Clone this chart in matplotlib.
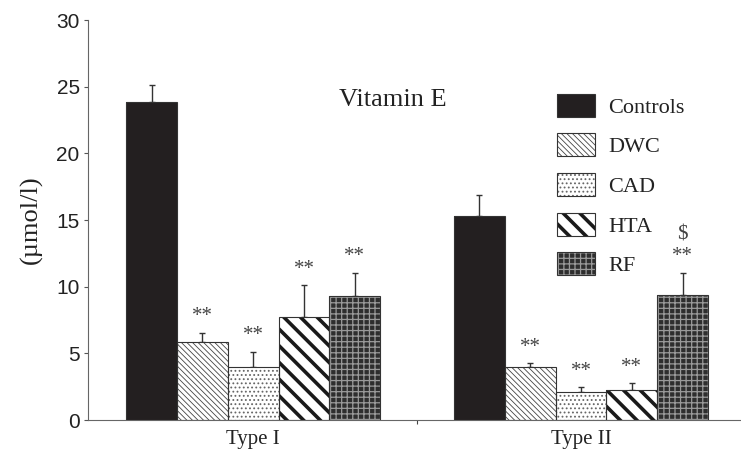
import numpy as np
import matplotlib as mpl
mpl.use('Agg')
import matplotlib.pyplot as plt
from matplotlib.patches import Patch, Rectangle
from matplotlib.legend_handler import HandlerPatch

# data
groups = ['Type I', 'Type II']
series = ['Controls', 'DWC', 'CAD', 'HTA', 'RF']
means = {
  'Controls': [23.85, 15.3],
  'DWC': [5.85, 3.95],
  'CAD': [4.0, 2.1],
  'HTA': [7.75, 2.25],
  'RF': [9.3, 9.35],
}
errs = {
  'Controls': [1.3, 1.6],
  'DWC': [0.7, 0.3],
  'CAD': [1.1, 0.35],
  'HTA': [2.35, 0.5],
  'RF': [1.75, 1.7],
}
marks = {
  'Controls': ['', ''],
  'DWC': ['**', '**'],
  'CAD': ['**', '**'],
  'HTA': ['**', '**'],
  'RF': ['**', '$\n**'],
}

# style per series: face, hatch, hatch colour, hatch linewidth
styles = {
  'Controls': dict(face='#231f20', hatch=None, hc='#231f20', hlw=1.0),
  'DWC': dict(face='white', hatch='\\\\\\\\\\\\', hc='#444444', hlw=0.6),
  'CAD': dict(face='white', hatch='....', hc='#666666', hlw=0.8),
  'HTA': dict(face='white', hatch='\\\\', hc='#1a1a1a', hlw=2.6),
  'RF': dict(face='#2e2e2e', hatch='+++', hc='#9a9a9a', hlw=0.9),
}

serif = ['Liberation Serif', 'DejaVu Serif']
sans = ['Liberation Sans', 'DejaVu Sans']


def make_patch(st, xy, w, h):
  r = Rectangle(xy, w, h, facecolor=st['face'], edgecolor=st['hc'],
                hatch=st['hatch'], linewidth=0)
  if hasattr(r, 'set_hatch_linewidth'):
    r.set_hatch_linewidth(st['hlw'])
  return r


class HatchHandler(HandlerPatch):
  def __init__(self, st):
    super().__init__()
    self.st = st

  def create_artists(self, legend, orig_handle, xdescent, ydescent,
                     width, height, fontsize, trans):
    mpl.rcParams['hatch.linewidth'] = self.st['hlw']
    p = make_patch(self.st, (-xdescent, -ydescent), width, height)
    p.set_transform(trans)
    o = Rectangle((-xdescent, -ydescent), width, height, fill=False,
                  edgecolor='#333333', linewidth=0.8)
    o.set_transform(trans)
    return [p, o]


fig = plt.figure(figsize=(7.41, 4.53), dpi=100)
ax = fig.add_axes([88/741, 33/453, 653/741, 400/453])

x = np.arange(len(groups))
width = 0.155
handles = []
hmap = {}
for i, name in enumerate(series):
  st = styles[name]
  pos = x + (i - 2) * width
  mpl.rcParams['hatch.linewidth'] = st['hlw']
  bars = ax.bar(pos, means[name], width, color=st['face'],
                edgecolor=st['hc'], hatch=st['hatch'], linewidth=0, zorder=2)
  for b in bars:
    if hasattr(b, 'set_hatch_linewidth'):
      b.set_hatch_linewidth(st['hlw'])
  ax.bar(pos, means[name], width, fill=False, edgecolor='#333333',
         linewidth=0.8, zorder=3)
  ax.errorbar(pos, means[name], yerr=[np.zeros(len(groups)), errs[name]],
              fmt='none', ecolor='#333333', elinewidth=1.0, capsize=2,
              capthick=1.0, zorder=1)
  for p, m, e, t in zip(pos, means[name], errs[name], marks[name]):
    if t:
      ax.text(p, m + e + 0.5, t, ha='center', va='bottom', fontsize=15,
              family=serif, color='#444444', linespacing=1.15)
  h = Patch(label=name)
  handles.append(h)
  hmap[h] = HatchHandler(st)

ax.set_xlim(-0.504, 1.488)
ax.set_ylim(0, 30)
ax.set_yticks(np.arange(0, 31, 5))
ax.tick_params(axis='y', direction='out', length=3, width=0.8,
               color='#555555', labelsize=15, pad=3)
for lab in ax.get_yticklabels():
  lab.set_family(sans)
  lab.set_color('#222222')

ax.set_xticks([0.5])
ax.set_xticklabels([''])
ax.set_xticks(x, minor=True)
ax.set_xticklabels(groups, minor=True, fontsize=15, family=serif,
                   color='#222222')
ax.tick_params(axis='x', which='major', direction='out', length=3,
               width=0.8, color='#444444')
ax.tick_params(axis='x', which='minor', length=0, pad=7)

for s in ['top', 'right']:
  ax.spines[s].set_visible(False)
ax.spines['left'].set_color('#666666')
ax.spines['bottom'].set_color('#666666')
ax.spines['left'].set_linewidth(0.8)
ax.spines['bottom'].set_linewidth(0.8)

ax.set_ylabel('(µmol/l)', fontsize=19, family=serif, color='#222222',
              labelpad=10)

ax.text(0.467, 0.80, 'Vitamin E', transform=ax.transAxes, ha='center',
        va='center', fontsize=19, family=serif, color='#222222')

leg = ax.legend(handles, series, handler_map=hmap, loc='upper left',
                bbox_to_anchor=(0.691, 0.86), frameon=False,
                prop={'family': serif, 'size': 16},
                handlelength=1.7, handleheight=1.2, labelspacing=0.71,
                handletextpad=0.6, borderpad=0.3)
for t in leg.get_texts():
  t.set_color('#222222')

fig.savefig('out.png', dpi=100)
